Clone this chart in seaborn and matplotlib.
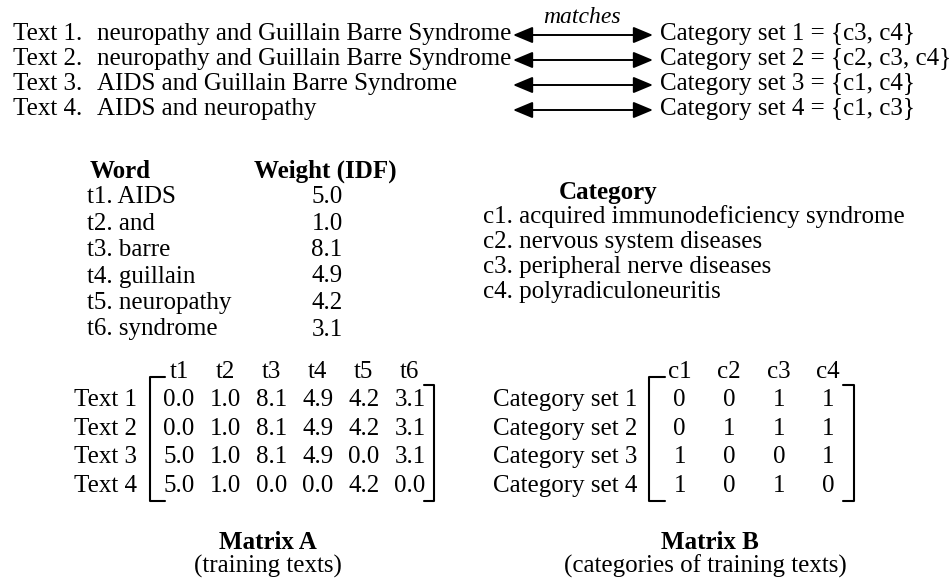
import numpy as np
import pandas as pd
import matplotlib
matplotlib.use("Agg")
import matplotlib.pyplot as plt
from matplotlib.colors import ListedColormap
import seaborn as sns

# data
texts = [
    "neuropathy and Guillain Barre Syndrome",
    "neuropathy and Guillain Barre Syndrome",
    "AIDS and Guillain Barre Syndrome",
    "AIDS and neuropathy",
]
category_sets = [["c3", "c4"], ["c2", "c3", "c4"], ["c1", "c4"], ["c1", "c3"]]
words = ["AIDS", "and", "barre", "guillain", "neuropathy", "syndrome"]
idf = [5.0, 1.0, 8.1, 4.9, 4.2, 3.1]
categories = [
    "acquired immunodeficiency syndrome",
    "nervous system diseases",
    "peripheral nerve diseases",
    "polyradiculoneuritis",
]
term_labels = ["t1", "t2", "t3", "t4", "t5", "t6"]
cat_labels = ["c1", "c2", "c3", "c4"]
text_labels = ["Text 1", "Text 2", "Text 3", "Text 4"]
set_labels = ["Category set 1", "Category set 2", "Category set 3", "Category set 4"]
matrix_a = [
    [0.0, 1.0, 8.1, 4.9, 4.2, 3.1],
    [0.0, 1.0, 8.1, 4.9, 4.2, 3.1],
    [5.0, 1.0, 8.1, 4.9, 0.0, 3.1],
    [5.0, 1.0, 0.0, 0.0, 4.2, 0.0],
]
matrix_b = [
    [0, 0, 1, 1],
    [0, 1, 1, 1],
    [1, 0, 0, 1],
    [1, 0, 1, 0],
]

sns.set_theme(style="white", rc={"text.color": "black", "xtick.color": "black",
                                 "ytick.color": "black", "axes.labelcolor": "black"})
plt.rcParams["font.family"] = ["Liberation Serif", "DejaVu Serif"]

FS = 18
W, H = 951, 581

fig = plt.figure(figsize=(W / 100, H / 100), dpi=100)
ax = fig.add_axes([0, 0, 1, 1])
ax.set_xlim(0, W)
ax.set_ylim(H, 0)
ax.axis("off")

#Texts, arrows and category sets
top_y = [40, 65, 90, 115]
for i, (txt, cats) in enumerate(zip(texts, category_sets)):
    y = top_y[i]
    ax.text(13, y, f"Text {i + 1}.", fontsize=FS, va="baseline")
    ax.text(97, y, txt, fontsize=FS, va="baseline")
    ax.annotate("", xy=(653, y - 5), xytext=(513, y - 5),
                arrowprops=dict(arrowstyle="<|-|>,head_length=1.2,head_width=0.5",
                                mutation_scale=10, color="black", lw=1.4,
                                shrinkA=0, shrinkB=0))
    ax.text(660, y, f"Category set {i + 1} = {{{', '.join(cats)}}}",
            fontsize=FS, va="baseline")
ax.text(582, 23, "matches", fontsize=FS - 1, style="italic", ha="center", va="baseline")

#Word / weight table
ax.text(90, 178, "Word", fontsize=FS, weight="bold", va="baseline")
ax.text(325, 178, "Weight (IDF)", fontsize=FS, weight="bold", ha="center", va="baseline")
for j, (w, v) in enumerate(zip(words, idf)):
    y = 203 + 26.5 * j
    ax.text(87, y, f"{term_labels[j]}. {w}", fontsize=FS, va="baseline")
    ax.text(327, y, f"{v:.1f}", fontsize=FS, ha="center", va="baseline")

#Category list
ax.text(608, 199, "Category", fontsize=FS, weight="bold", ha="center", va="baseline")
for k, c in enumerate(categories):
    ax.text(483, 223 + 25 * k, f"{cat_labels[k]}. {c}", fontsize=FS, va="baseline")


def px_axes(x0, x1, y0, y1):
    return fig.add_axes([x0 / W, 1 - y1 / H, (x1 - x0) / W, (y1 - y0) / H])


def draw_matrix(mat_ax, df, fmt, pad):
    sns.heatmap(df, ax=mat_ax, cmap=ListedColormap(["white"]), cbar=False,
                annot=True, fmt=fmt, linewidths=0,
                annot_kws={"fontsize": FS, "color": "black"})
    mat_ax.xaxis.tick_top()
    mat_ax.tick_params(axis="x", length=0, labelsize=FS, pad=2, rotation=0)
    mat_ax.tick_params(axis="y", length=0, labelsize=FS, pad=pad, rotation=0)
    nrow, ncol = df.shape
    # brackets
    mat_ax.plot([0.2, -0.12, -0.12, 0.2], [-0.3, -0.3, nrow + 0.05, nrow + 0.05],
                color="black", lw=1.5, clip_on=False)
    mat_ax.plot([ncol - 0.2, ncol + 0.02, ncol + 0.02, ncol - 0.2],
                [-0.05, -0.05, nrow + 0.05, nrow + 0.05],
                color="black", lw=1.5, clip_on=False)


#Matrix A
ax_a = px_axes(156, 433, 386, 500)
draw_matrix(ax_a, pd.DataFrame(matrix_a, index=text_labels, columns=term_labels), ".1f", 13.5)

#Matrix B
ax_b = px_axes(655, 853, 386, 500)
draw_matrix(ax_b, pd.DataFrame(matrix_b, index=set_labels, columns=cat_labels), "d", 13)

ax.text(268, 549, "Matrix A", fontsize=FS, weight="bold", ha="center", va="baseline")
ax.text(268, 573, "(training texts)", fontsize=FS, ha="center", va="baseline")
ax.text(710, 549, "Matrix B", fontsize=FS, weight="bold", ha="center", va="baseline")
ax.text(705, 573, "(categories of training texts)", fontsize=FS, ha="center", va="baseline")

fig.savefig("out.png", dpi=100)
